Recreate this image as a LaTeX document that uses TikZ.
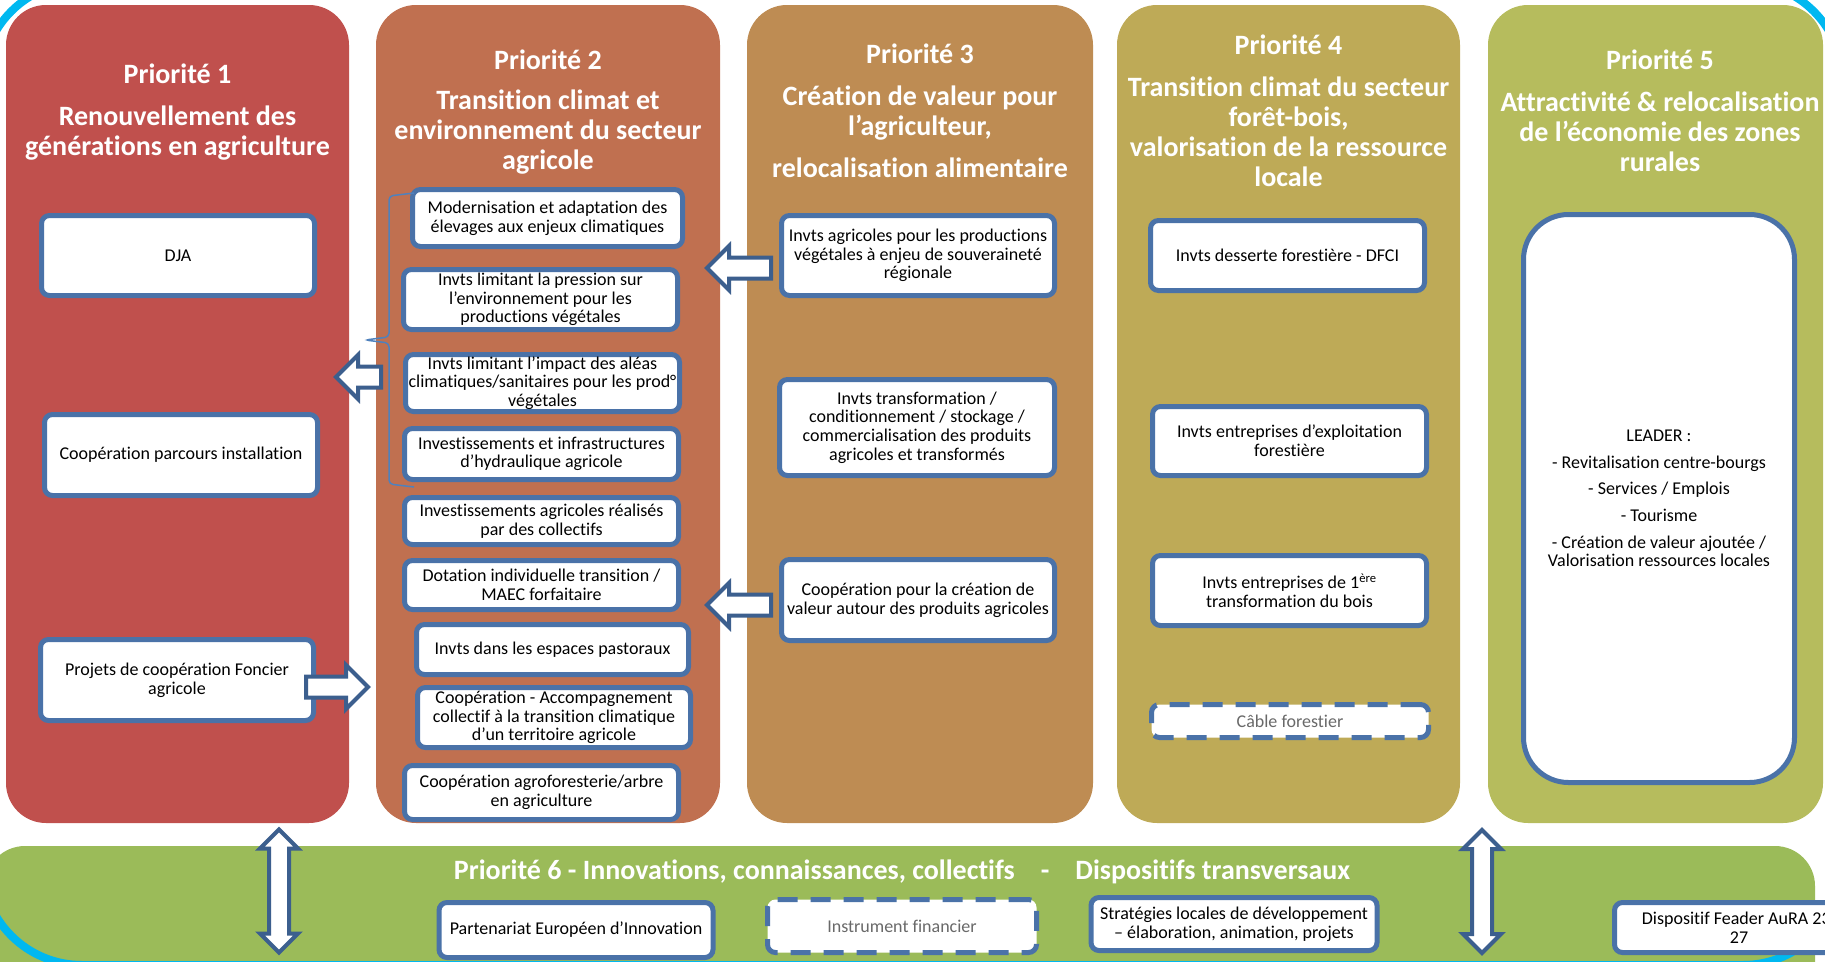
\documentclass[tikz,border=0pt]{standalone}
\usepackage{fontspec}
\setmainfont{Carlito}[Ligatures=CommonOff]
\usepackage{tikz}
\usetikzlibrary{calc,shapes.arrows}

\definecolor{prioA}{RGB}{192,80,77}
\definecolor{prioB}{RGB}{192,112,80}
\definecolor{prioC}{RGB}{190,140,83}
\definecolor{prioD}{RGB}{190,170,87}
\definecolor{prioE}{RGB}{182,188,93}
\definecolor{prioF}{RGB}{155,187,89}
\definecolor{boxblue}{RGB}{74,114,168}
\definecolor{arrowblue}{RGB}{60,95,142}
\definecolor{bracketblue}{RGB}{79,129,189}
\definecolor{framecyan}{RGB}{0,184,240}
\definecolor{greytxt}{RGB}{105,105,105}

\tikzset{
	col/.style={rounded corners=40pt, inner sep=0pt, minimum height=818pt},
	prio/.style={text=white, font=\bfseries\fontsize{28}{30}\selectfont, align=center},
	box/.style={draw=boxblue, fill=white, line width=5pt, rounded corners=8pt, align=center, inner xsep=2pt, inner ysep=0pt, font=\fontsize{18}{18.6}\selectfont},
	dashbox/.style={box, dash pattern=on 20pt off 13pt, text=greytxt},
	harrow/.style={single arrow, draw=arrowblue, fill=white, line width=4pt, inner xsep=0pt, inner ysep=8.5pt, minimum width=40pt, single arrow head extend=11.5pt, single arrow tip angle=90, minimum height=#1},
	varrow/.style={double arrow, draw=arrowblue, fill=white, line width=4pt, inner xsep=0pt, inner ysep=8pt, minimum width=34pt, double arrow head extend=9pt, double arrow tip angle=90, minimum height=123pt, rotate=90},
}

\begin{document}
\begin{tikzpicture}[x=1pt, y=-1pt]
			\useasboundingbox (0,0) rectangle (1825,961);
			\clip (0,0) rectangle (1825,961);
			
			%%%%% COLUMNS %%%%%
			
			\node[col, fill=prioA, minimum width=343pt] (c1) at (177.5,414) {};
			\node[col, fill=prioB, minimum width=344pt] (c2) at (548,414) {};
			\node[col, fill=prioC, minimum width=346pt] (c3) at (920,414) {};
			\node[col, fill=prioD, minimum width=343pt] (c4) at (1288.5,414) {};
			\node[col, fill=prioE, minimum width=335pt] (c5) at (1655.5,414) {};
			\node[col, fill=prioF, minimum width=1830pt, minimum height=164pt] (c6) at (900,928) {};
			
			\draw[framecyan, line width=8pt, rounded corners=100pt] (-18,-18) rectangle (1843,965);
			
			%%%%% TITLES %%%%%
			
			\node[prio] (t1) at (177.5,74) {Priorité 1};
			\node[prio] (s1) at (177.5,133) {Renouvellement des\\générations en agriculture};
			\node[prio] (t2) at (548,60) {Priorité 2};
			\node[prio] (s2) at (548,132) {Transition climat et\\environnement du secteur\\agricole};
			\node[prio] (t3) at (920,54) {Priorité 3};
			\node[prio] (s3) at (920,131.5) {Création de valeur pour\\l’agriculteur,\\[12pt]relocalisation alimentaire};
			\node[prio] (t4) at (1288.5,45) {Priorité 4};
			\node[prio] (s4) at (1288.5,132) {Transition climat du secteur\\forêt-bois,\\valorisation de la ressource\\locale};
			\node[prio] (t5) at (1660,60) {Priorité 5};
			\node[prio] (s5) at (1660,132) {Attractivité \& relocalisation\\de l’économie des zones\\rurales};
			\node[prio] (t6) at (902,872) {Priorité 6 - Innovations, connaissances, collectifs\hspace{26pt}-\hspace{26pt}Dispositifs transversaux};
			
			%%%%% PRIORITE 1 %%%%%
			
			\node[box, minimum width=273pt, minimum height=80pt] (p1a) at (178,255.5) {DJA};
			\node[box, minimum width=273pt, minimum height=81pt] (p1b) at (181,455) {Coopération parcours installation};
			\node[box, minimum width=273pt, minimum height=81pt] (p1c) at (177,680) {Projets de coopération Foncier\\agricole};
			
			%%%%% PRIORITE 2 %%%%%
			
			\node[box, minimum width=270pt, minimum height=57pt] (p2a) at (547.5,218) {Modernisation et adaptation des\\élevages aux enjeux climatiques};
			\node[box, minimum width=274pt, minimum height=60pt] (p2b) at (540.5,299.5) {Invts limitant la pression sur\\l’environnement pour les\\productions végétales};
			\node[box, minimum width=274pt, minimum height=57pt] (p2c) at (542.5,383) {Invts limitant l’impact des aléas\\climatiques/sanitaires pour les prod°\\végétales};
			\node[box, minimum width=274pt, minimum height=51pt] (p2d) at (541.5,454) {Investissements et infrastructures\\d’hydraulique agricole};
			\node[box, minimum width=274pt, minimum height=47pt] (p2e) at (541.5,521) {Investissements agricoles réalisés\\par des collectifs};
			\node[box, minimum width=274pt, minimum height=49pt] (p2f) at (541.5,585) {Dotation individuelle transition /\\MAEC forfaitaire};
			\node[box, minimum width=272pt, minimum height=50pt] (p2g) at (552.5,649.5) {Invts dans les espaces pastoraux};
			\node[box, minimum width=273pt, minimum height=60pt] (p2h) at (554,717.5) {Coopération - Accompagnement\\collectif à la transition climatique\\d’un territoire agricole};
			\node[box, minimum width=274pt, minimum height=54pt] (p2i) at (541.5,792.5) {Coopération agroforesterie/arbre\\en agriculture};
			
			\draw[bracketblue, line width=1.5pt, rounded corners=4pt] (414,193) -- (389,196) -- (389,337) -- (365,340) -- (389,343) -- (389,484) -- (414,487);
			
			%%%%% PRIORITE 3 %%%%%
			
			\node[box, minimum width=273pt, minimum height=80pt] (p3a) at (918,255.5) {Invts agricoles pour les productions\\végétales à enjeu de souveraineté\\régionale};
			\node[box, minimum width=275pt, minimum height=96pt] (p3b) at (917,427.5) {Invts transformation /\\conditionnement / stockage /\\commercialisation des produits\\agricoles et transformés};
			\node[box, minimum width=273pt, minimum height=81pt] (p3c) at (918,600) {Coopération pour la création de\\valeur autour des produits agricoles};
			
			%%%%% PRIORITE 4 %%%%%
			
			\node[box, minimum width=274pt, minimum height=70pt] (p4a) at (1287.5,255.5) {Invts desserte forestière - DFCI};
			\node[box, minimum width=274pt, minimum height=69pt] (p4b) at (1289.5,441) {Invts entreprises d’exploitation\\forestière};
			\node[box, minimum width=274pt, minimum height=70pt] (p4c) at (1289.5,590.5) {Invts entreprises de 1\textsuperscript{ère}\\transformation du bois};
			\node[dashbox, minimum width=277pt, minimum height=33pt] (p4d) at (1290,721) {Câble forestier};
			
			%%%%% PRIORITE 5 %%%%%
			
			\node[box, rounded corners=45pt, minimum width=271pt, minimum height=568pt] (p5a) at (1659,498.5) {LEADER :\\[8pt]- Revitalisation centre-bourgs\\[8pt]- Services / Emplois\\[8pt]- Tourisme\\[8pt]- Création de valeur ajoutée /\\Valorisation ressources locales};
			
			%%%%% PRIORITE 6 %%%%%
			
			\node[box, minimum width=274pt, minimum height=55pt] (p6a) at (576,930) {Partenariat Européen d’Innovation};
			\node[dashbox, minimum width=269pt, minimum height=53pt] (p6b) at (902,926) {Instrument financier};
			\node[box, minimum width=286pt, minimum height=53pt] (p6c) at (1234,924) {Stratégies locales de développement\\– élaboration, animation, projets};
			\node[box, minimum width=249pt, minimum height=50pt] (p6d) at (1739,927.5) {Dispositif Feader AuRA 23-\\27};
			
			%%%%% ARROWS %%%%%
			
			\node[harrow=64pt, rotate=180, anchor=tail] (a32a) at ($(p3a.west)+(-6,12.5)$) {};
			\node[harrow=64pt, rotate=180, anchor=tail] (a32b) at ($(p3c.west)+(-6,5)$) {};
			\node[harrow=45pt, rotate=180, anchor=tail] (a21) at (383,377) {};
			\node[harrow=62pt, anchor=tail] (a12) at ($(p1c.east)+(-12,7)$) {};
			
			\node[varrow] (d16) at (279,891) {};
			\node[varrow] (d56) at (1482,891.5) {};
			
		\end{tikzpicture}
\end{document}
